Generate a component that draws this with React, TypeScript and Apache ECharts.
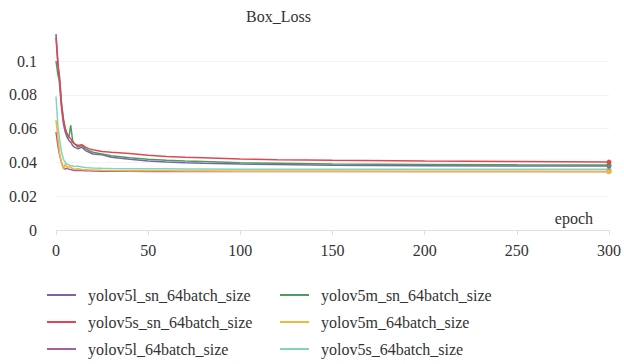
import React, { useEffect, useRef } from "react";
import * as echarts from "echarts";

const epochs = [0, 1, 2, 3, 4, 5, 6, 7, 8, 9, 10, 12, 14, 16, 18, 20, 25, 30, 40, 50, 60, 70, 80, 100, 120, 150, 200, 250, 300];

const seriesNames = [
  "yolov5l_sn_64batch_size",
  "yolov5s_sn_64batch_size",
  "yolov5l_64batch_size",
  "yolov5m_sn_64batch_size",
  "yolov5m_64batch_size",
  "yolov5s_64batch_size",
];

const l_sn = [0.116, 0.1, 0.085, 0.072, 0.063, 0.058, 0.055, 0.053, 0.052, 0.05, 0.049, 0.048, 0.049, 0.047, 0.046, 0.045, 0.0445, 0.043, 0.0418, 0.0408, 0.0402, 0.0398, 0.0395, 0.039, 0.0387, 0.0383, 0.038, 0.0379, 0.0378];
const s_sn = [0.114, 0.098, 0.09, 0.074, 0.065, 0.06, 0.057, 0.055, 0.054, 0.052, 0.051, 0.05, 0.0505, 0.049, 0.048, 0.0475, 0.0465, 0.046, 0.0452, 0.0442, 0.0435, 0.043, 0.0427, 0.042, 0.0416, 0.0412, 0.0408, 0.0405, 0.0402];
const l_64 = [0.058, 0.05, 0.044, 0.04, 0.037, 0.036, 0.0365, 0.036, 0.0358, 0.0355, 0.0352, 0.0354, 0.0352, 0.035, 0.035, 0.0349, 0.0348, 0.0347, 0.0347, 0.0346, 0.0346, 0.0346, 0.0346, 0.0346, 0.0346, 0.0346, 0.0346, 0.0346, 0.0346];
const m_sn = [0.1, 0.092, 0.088, 0.075, 0.066, 0.06, 0.056, 0.055, 0.062, 0.053, 0.051, 0.049, 0.05, 0.048, 0.047, 0.046, 0.045, 0.044, 0.0428, 0.0418, 0.0412, 0.0408, 0.0405, 0.0398, 0.0395, 0.0391, 0.0388, 0.0386, 0.0385];
const m_64 = [0.065, 0.055, 0.045, 0.04, 0.036, 0.039, 0.037, 0.0375, 0.037, 0.0365, 0.036, 0.0362, 0.0358, 0.0357, 0.0355, 0.0355, 0.0353, 0.0352, 0.0351, 0.035, 0.035, 0.0349, 0.0349, 0.0348, 0.0347, 0.0347, 0.0346, 0.0346, 0.0345];
const s_64 = [0.079, 0.062, 0.053, 0.046, 0.042, 0.04, 0.039, 0.0385, 0.038, 0.038, 0.0375, 0.0378, 0.0373, 0.037, 0.0368, 0.0367, 0.0365, 0.0364, 0.0363, 0.0362, 0.0362, 0.0361, 0.0361, 0.036, 0.036, 0.036, 0.036, 0.0359, 0.0359];

const seriesValues = [l_sn, s_sn, l_64, m_sn, m_64, s_64];
const colors = ["#7d62aa", "#e2474f", "#a45fa8", "#4c9d62", "#f4b63a", "#84d4ba"];
const yTicks = [0, 0.02, 0.04, 0.06, 0.08, 0.1];
const xTicks = [0, 50, 100, 150, 200, 250, 300];

const FONT = "Liberation Serif";

export default function App() {
  const ref = useRef<HTMLDivElement>(null);
  useEffect(() => {
    if (!ref.current) return;
    const chart = echarts.init(ref.current, null, { renderer: "svg" });
    const series = seriesNames.map((name, i) => ({
      name,
      type: "line",
      clip: false,
      symbol: "none",
      showSymbol: true,
      showAllSymbol: true,
      z: [3, 6, 2, 4, 5, 1][i] + 2,
      lineStyle: { width: 1.5, color: colors[i] },
      itemStyle: { color: colors[i] },
      data: epochs.map((e, j) =>
        j === epochs.length - 1
          ? { value: [e, seriesValues[i][j]], symbol: "circle", symbolSize: 5 }
          : [e, seriesValues[i][j]]
      ),
    }));
    const legendBase = {
      orient: "vertical",
      top: 287,
      height: 80,
      padding: 0,
      itemWidth: 29,
      itemHeight: 2,
      itemGap: 11,
      icon: "rect",
      textStyle: { fontFamily: FONT, fontSize: 16, color: "#333", padding: [0, 0, 0, 7] },
    };
    chart.setOption({
      animation: false,
      color: colors,
      textStyle: { fontFamily: FONT },
      title: {
        text: "Box_Loss",
        left: 246,
        top: 8,
        padding: 0,
        textStyle: { fontFamily: FONT, fontSize: 16, fontWeight: "normal", color: "#333" },
      },
      legend: [
        { ...legendBase, left: 47, data: seriesNames.slice(0, 3) },
        { ...legendBase, left: 280, data: seriesNames.slice(3, 6) },
      ],
      grid: { left: 56, right: 13, top: 61, bottom: 134, containLabel: false },
      xAxis: {
        type: "value",
        min: xTicks[0],
        max: xTicks[xTicks.length - 1],
        interval: 50,
        name: "epoch",
        nameLocation: "end",
        nameGap: 0,
        nameTextStyle: {
          fontFamily: FONT,
          fontSize: 16,
          color: "#333",
          align: "right",
          verticalAlign: "bottom",
          padding: [0, 16, 4, 0],
        },
        axisLine: { show: true, lineStyle: { color: "#e0e0e0" } },
        axisTick: { show: true, length: 5, lineStyle: { color: "#e0e0e0" } },
        axisLabel: { fontFamily: FONT, fontSize: 16, color: "#333", margin: 12 },
        splitLine: { show: false },
      },
      yAxis: {
        type: "value",
        min: yTicks[0],
        max: yTicks[yTicks.length - 1],
        interval: 0.02,
        axisLine: { show: false },
        axisTick: { show: false },
        axisLabel: { fontFamily: FONT, fontSize: 16, color: "#333", margin: 19 },
        splitLine: { show: true, lineStyle: { color: "#f3f3f3" } },
      },
      series,
    });
    return () => chart.dispose();
  }, []);
  return (
    <div
      ref={ref}
      style={{ position: "absolute", left: 0, top: 0, width: 624, height: 364 }}
    />
  );
}
